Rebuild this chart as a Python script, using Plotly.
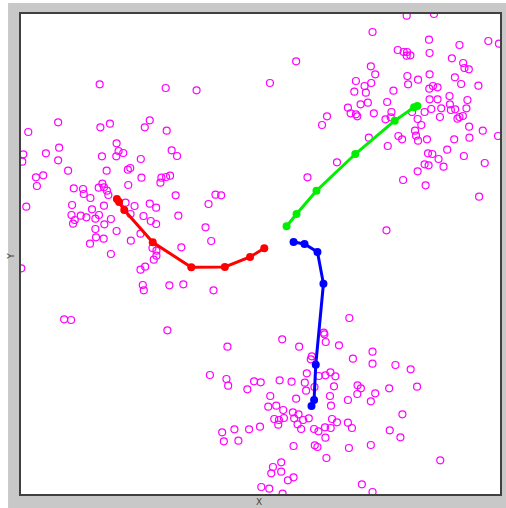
import plotly.graph_objects as go

# Scatter cloud (data units)
pts_x = [
    79, 145.3, 176.3, 37.3, 7.3, 79.7, 89.3, 129.3, 124.3, 146.3, 96, 2.3, 1.3, 25, 38.3, 37.3, 98, 102.7, 95.7, 81.3,
    151.3, 156.7, 120.3, 47.3, 86, 107.3, 109.7, 15, 22.3, 16, 121, 141, 145.7, 149.7, 140, 107.7, 53, 62.3, 63, 69.7,
    78, 81.7, 83.3, 86.3, 87.7, 155.3, 195.3, 201, 188.3, 5.3, 51.3, 71.3, 83.3, 105, 114, 129.3, 135.7,
    50.7, 54, 52.3, 60, 65.7, 78.3, 74.7, 90.3, 83.7, 74.7, 96, 75.3, 83, 69.3, 90.3, 110, 123, 130.3, 135.7, 120,
    110.3, 158, 185.3, 191, 161, 132, 136, 136, 133.3, 124.7, 120, 0.3, 122.3, 123.3, 149, 163, 193.3, 43.3, 50.3, 147,
    387.3, 414.7, 353, 276.3, 250, 409.7, 440.3, 469.3, 480, 378.3, 384.3, 387.7, 387.3, 391, 410.3, 432.7, 444, 445.3,
    449.7, 351.3, 355.7, 336.3, 351.7, 345, 334.7, 346.3, 388, 388.7, 398.7, 410.3, 435.7, 442, 459.3, 374, 410, 413.7,
    418.3, 367.7, 348.3, 341, 328.3, 331, 336.3, 337.7, 354.3, 372, 307.3, 410.3, 418.3, 430.3, 430.7, 448.3, 447.3, 422,
    412, 431.7, 436, 405.3, 392.7, 420.7, 440.3, 443.7, 438.3, 398.3, 366,
    302.3, 371.3, 402, 395.7, 396.7, 398.7, 407.7, 379, 382.7, 368.3, 349.3, 450, 463.7, 479, 450.3, 435, 428, 408.7,
    413, 419.3, 444.7, 465.7, 405.3, 409.3, 424.3, 398.3, 383.7, 406.3, 460, 317.3, 287.7, 367,
    329.7, 304, 304.7, 306, 319.3, 262.3, 279.3, 207.3, 292, 291, 333.3, 189.7, 206.3, 208, 234, 240.7, 259.7, 271.7,
    287, 285, 286.3, 294.7, 299, 305.7, 310.7, 315.7, 314.3, 338, 337.7, 227.3, 250.3, 276.3, 310.3, 328.3, 248.3, 256.3,
    263.3, 273, 278.7, 311.3, 254.3, 259, 264, 258.3, 274.3, 283.3, 289, 277.7, 281.3, 312.3, 317.3, 328.3, 332.3, 294.3,
    298.7, 305.3, 311, 305.7, 202, 203.7, 214.3, 218.3, 229, 240, 273.7, 295, 297.7, 306.7, 329.3, 261.3, 253, 251.3,
    261.3, 273.7, 268, 241.3, 249.3, 262.7,
    353, 353, 376, 391.3, 341.3, 355.7, 351.3, 369.7, 397.7, 383, 370.3, 381, 351.3, 421, 342.3, 353,
]
pts_y = [
    409.7, 406, 403.7, 371.7, 362, 366.7, 370.3, 373.7, 366.7, 363.3, 350.7, 339.7, 332.3, 340.7, 346.3, 333.7, 343, 341, 337.7, 337.7,
    343.7, 338, 335, 323.3, 323.3, 324.3, 326, 316.7, 318.7, 308, 316.3, 316.3, 317, 318.3, 311.3, 309, 305.7, 305, 300, 296,
    306.3, 310.3, 306.7, 303.3, 299, 298.7, 299.3, 298.7, 290, 287.3, 289, 284.7, 288.3, 291.3, 288, 290.3, 286.3,
    279, 274, 270.3, 278.3, 276.7, 279, 275.3, 275, 269.7, 265, 263, 256.7, 255.3, 250.3, 240, 280, 278, 273, 270, 260.3,
    253.3, 278.3, 266.7, 253, 246.7, 246, 243.3, 238.3, 234.3, 227.3, 224.3, 225.7, 209, 203.7, 208.7, 209.7, 203.7, 174.7, 174, 163.7,
    478.3, 480, 462, 432.7, 411, 454.3, 449, 453, 450.3, 444, 442, 442, 438.3, 438.7, 441, 435.7, 431, 426,
    424.7, 427.7, 419.7, 413, 411, 408, 402.3, 401.3, 418, 409.7, 414.3, 419.7, 416.7, 410, 408.3, 403.3, 405.3, 408,
    406.7, 392, 391.3, 389.7, 386.3, 380.7, 379.7, 377.7, 380.7, 382, 377.7, 394.7, 394.7, 398, 389.7, 394, 385.7, 385.7,
    385, 384, 384.7, 382, 382, 377, 377, 378, 375.3, 375, 374.7,
    369, 376.7, 369, 363.3, 358.3, 353.3, 354.7, 358, 354.7, 348, 356.3, 367.3, 363.3, 358, 356.3, 354.7, 344.3, 340.7,
    340, 335, 338, 331, 329.7, 328.7, 327.3, 322.7, 314, 308.7, 297.3, 331.7, 316.7, 263.7,
    176, 161.3, 159.7, 152, 148.7, 154.7, 147.3, 147.3, 137.7, 134.7, 135.3, 119, 115, 108.3, 112.7, 111.7, 113.7, 112.3,
    120.7, 111.3, 103.3, 107, 118, 118.7, 121.7, 117.7, 107.7, 108.7, 100, 104.7, 98, 95.3, 98, 94, 87.3, 88.3,
    84, 81.7, 79.7, 88.3, 75, 74, 76, 69.3, 75.7, 74, 75.7, 69.7, 65, 75, 71.7, 71.3, 66, 65,
    62.7, 66.7, 66, 56.3, 61.7, 52.7, 64.7, 53.3, 64.7, 67.3, 48, 48.7, 47, 36, 46, 31.7, 27, 20.7,
    22.3, 16.7, 13.7, 7, 5.3, 0.3,
    142.3, 130.3, 129, 124.7, 105.7, 100.7, 92.7, 105.7, 107.3, 79.7, 63.7, 56.7, 49, 33.7, 9.7, 2,
]

# Three curves
red_x = [96.3, 98.5, 103.7, 132.3, 171, 204.7, 230, 244.3]
red_y = [295, 292, 284, 251.7, 226.7, 227, 237, 245.7]
green_x = [266.7, 276.7, 296.7, 335.7, 375.3, 394.7, 398]
green_y = [267.7, 280, 303.3, 340, 373.3, 386.7, 388]
blue_x = [273.7, 284.7, 297.7, 303.7, 296, 294.3, 291.7]
blue_y = [252, 250, 242, 210.3, 129.3, 94, 88]

fig = go.Figure()
fig.add_trace(go.Scatter(x=pts_x, y=pts_y, mode="markers",
                         marker=dict(symbol="circle-open", size=7, color="#ff00ff",
                                     line=dict(width=1.2, color="#ff00ff")),
                         showlegend=False, hoverinfo="skip"))
for xs, ys, c in [(red_x, red_y, "#ff0000"), (green_x, green_y, "#00ee00"), (blue_x, blue_y, "#0000ff")]:
    fig.add_trace(go.Scatter(x=xs, y=ys, mode="lines+markers",
                             line=dict(color=c, width=3),
                             marker=dict(color=c, size=8),
                             showlegend=False))

axis = dict(showgrid=False, zeroline=False, showticklabels=False, ticks="",
            showline=True, mirror=True, linecolor="#404040", linewidth=1.5)
fig.update_xaxes(range=[0, 481], **axis)
fig.update_yaxes(range=[0, 480], **axis)

fig.update_layout(
    width=506, height=508,
    margin=dict(l=21, r=4, t=14, b=14),
    paper_bgcolor="#c8c8c8", plot_bgcolor="white",
    shapes=[
        dict(type="rect", xref="paper", yref="paper", x0=-0.2, x1=-0.027, y0=-0.2, y1=1.2,
             fillcolor="white", line=dict(width=0), layer="below"),
        dict(type="rect", xref="paper", yref="paper", x0=-0.2, x1=1.2, y0=1.0229, y1=1.2,
             fillcolor="white", line=dict(width=0), layer="below"),
    ],
    annotations=[
        dict(text="X", xref="paper", yref="paper", x=0.497, y=-0.017, showarrow=False,
             xanchor="center", yanchor="middle", font=dict(family="DejaVu Sans", size=9, color="#444")),
        dict(text="Y", xref="paper", yref="paper", x=-0.021, y=0.496, showarrow=False, textangle=-90,
             xanchor="center", yanchor="middle", font=dict(family="DejaVu Sans", size=9, color="#444")),
    ],
)
fig.write_html("out.html", config={"displayModeBar": False},
               post_script="document.body.style.margin='0';document.body.style.overflow='hidden';")
